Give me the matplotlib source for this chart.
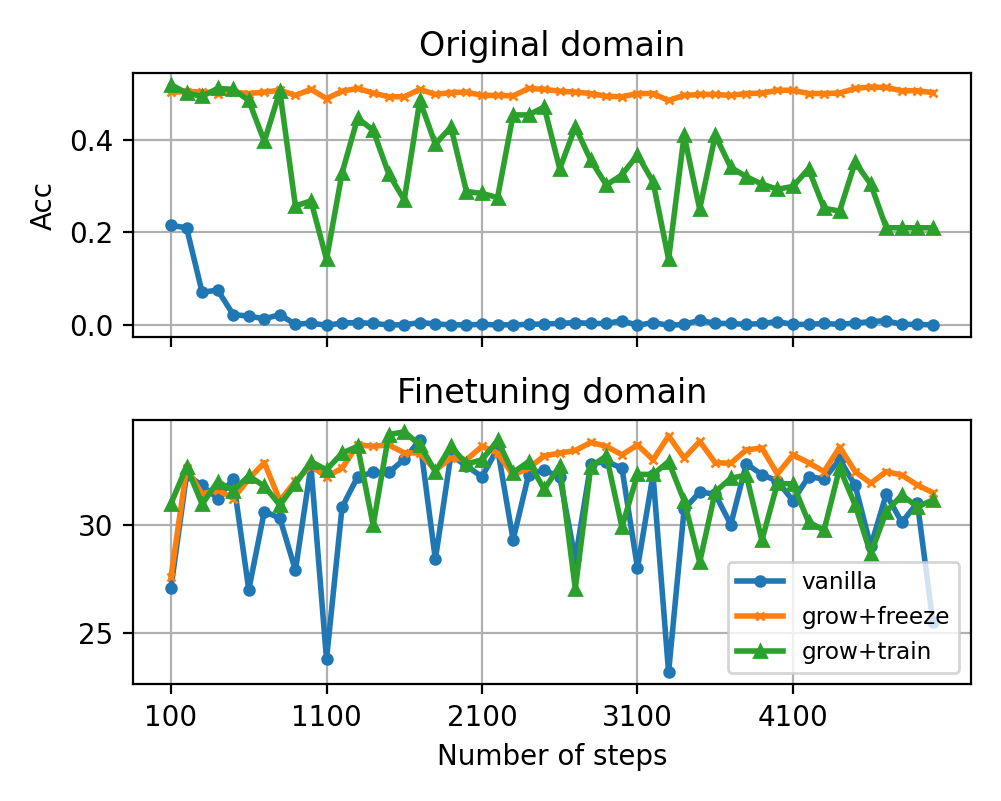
import matplotlib
matplotlib.use("Agg")
import matplotlib.pyplot as plt

steps = list(range(100, 5001, 100))
xticks = [100, 1100, 2100, 3100, 4100]

# accuracy on the original domain
orig_vanilla = [0.215, 0.210, 0.071, 0.076, 0.023, 0.020, 0.014, 0.023, 0.002, 0.005,
                0.000, 0.005, 0.006, 0.004, 0.001, 0.001, 0.006, 0.003, 0.001, 0.001,
                0.002, 0.001, 0.001, 0.002, 0.003, 0.004, 0.006, 0.004, 0.004, 0.010,
                0.000, 0.006, 0.000, 0.002, 0.011, 0.004, 0.004, 0.002, 0.004, 0.008,
                0.002, 0.002, 0.004, 0.002, 0.005, 0.008, 0.010, 0.002, 0.002, 0.001]
orig_freeze = [0.502, 0.503, 0.503, 0.499, 0.502, 0.499, 0.502, 0.506, 0.495, 0.508,
               0.488, 0.504, 0.510, 0.500, 0.492, 0.492, 0.508, 0.497, 0.501, 0.502,
               0.495, 0.495, 0.494, 0.510, 0.508, 0.504, 0.502, 0.499, 0.493, 0.492,
               0.499, 0.499, 0.484, 0.495, 0.497, 0.497, 0.495, 0.499, 0.500, 0.506,
               0.506, 0.499, 0.499, 0.500, 0.510, 0.513, 0.512, 0.505, 0.505, 0.501]
orig_train = [0.518, 0.500, 0.493, 0.510, 0.508, 0.484, 0.396, 0.504, 0.257, 0.268,
              0.142, 0.328, 0.446, 0.420, 0.326, 0.270, 0.484, 0.390, 0.427, 0.288,
              0.284, 0.275, 0.453, 0.453, 0.470, 0.337, 0.427, 0.355, 0.302, 0.324,
              0.367, 0.309, 0.142, 0.409, 0.250, 0.409, 0.340, 0.320, 0.304, 0.293,
              0.299, 0.337, 0.252, 0.246, 0.351, 0.304, 0.210, 0.210, 0.210, 0.210]

# accuracy on the finetuning domain
ft_vanilla = [27.1, 32.3, 31.8, 31.2, 32.1, 27.0, 30.6, 30.3, 27.9, 32.7,
              23.8, 30.8, 32.2, 32.4, 32.4, 33.0, 33.9, 28.4, 33.2, 32.7,
              32.2, 33.5, 29.3, 32.3, 32.5, 32.2, 28.4, 32.8, 32.9, 32.6,
              28.0, 32.3, 23.2, 30.7, 31.5, 31.4, 30.0, 32.8, 32.3, 32.0,
              31.1, 32.2, 32.1, 33.0, 31.8, 29.0, 31.4, 30.1, 31.0, 25.5]
ft_freeze = [27.6, 32.6, 31.4, 31.6, 31.2, 32.1, 32.85, 31.1, 32.0, 32.7,
             32.2, 32.6, 33.67, 33.6, 33.67, 33.3, 33.29, 32.5, 33.06, 32.98,
             33.6, 33.29, 32.28, 32.6, 33.16, 33.29, 33.41, 33.78, 33.6, 33.21,
             33.67, 32.98, 34.08, 33.06, 33.83, 32.85, 32.82, 33.44, 33.52, 32.33,
             33.21, 32.85, 32.44, 33.56, 32.44, 31.9, 32.44, 32.28, 31.82, 31.47]
ft_train = [30.97, 32.67, 30.94, 31.98, 31.56, 32.24, 31.77, 30.9, 31.87, 32.9,
            32.52, 33.29, 33.6, 29.97, 34.14, 34.27, 33.67, 32.44, 33.6, 32.79,
            32.98, 33.87, 32.39, 32.9, 31.62, 32.7, 27.05, 32.67, 33.16, 29.89,
            32.31, 32.31, 32.9, 31.1, 28.27, 31.51, 32.13, 32.28, 29.27, 31.9,
            31.87, 30.12, 29.74, 32.6, 30.9, 28.66, 30.59, 31.36, 30.82, 31.13]

LW = 2
styles = [("o", 3.5), ("x", 3), ("^", 4)]

fig, (ax1, ax2) = plt.subplots(2, 1, figsize=(5.005, 4.005), dpi=200, sharex=True)

labels = ["vanilla", "grow+freeze", "grow+train"]
for ax, series in ((ax1, [orig_vanilla, orig_freeze, orig_train]),
                   (ax2, [ft_vanilla, ft_freeze, ft_train])):
    for ys, (mk, ms), lab in zip(series, styles, labels):
        ax.plot(steps, ys, marker=mk, ms=ms, lw=LW, label=lab)
    ax.grid(True)

ax1.set_title("Original domain")
ax1.set_ylabel("Acc")
ax2.set_title("Finetuning domain")
ax2.set_xlabel("Number of steps")
ax2.set_xticks(xticks)
ax2.legend(loc="lower right", fontsize="small")

plt.tight_layout()
plt.savefig("out.png", dpi=200)
